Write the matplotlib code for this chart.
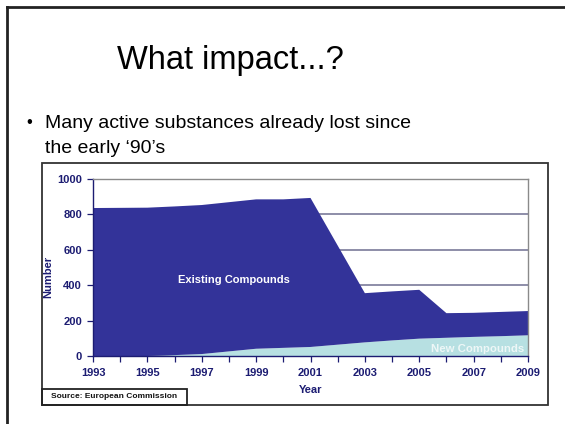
import matplotlib.pyplot as plt
from matplotlib.patches import Rectangle
from matplotlib.lines import Line2D

years = list(range(1993, 2010))
new_compounds = [0, 0, 0, 5, 11, 26, 41, 46, 51, 64, 77, 88, 98, 103, 108, 112, 117]
existing_compounds = [836, 837, 838, 840, 842, 843, 844, 839, 842, 560, 278, 277, 276, 139, 136, 137, 137]
y_ticks = [0, 200, 400, 600, 800, 1000]
x_labels = [1993, 1995, 1997, 1999, 2001, 2003, 2005, 2007, 2009]

navy = '#1c1c72'
dark_blue = '#333399'
light_cyan = '#b7e0e2'

plt.rcParams['font.family'] = ['Liberation Sans', 'DejaVu Sans']

fig = plt.figure(figsize=(5.65, 4.24), dpi=100)
fig.patch.set_facecolor('white')

# slide border (only left and top edges show)
fig.add_artist(Line2D([7 / 565, 7 / 565], [0, 1 - 7 / 424], color='#222222', lw=2, transform=fig.transFigure))
fig.add_artist(Line2D([7 / 565, 1], [1 - 7 / 424, 1 - 7 / 424], color='#222222', lw=2, transform=fig.transFigure))

fig.text(0.407, 0.858, 'What impact...?', fontsize=23.5, ha='center', va='center', color='black')
fig.text(0.046, 0.700, '\u2022', fontsize=12, ha='left', va='baseline', color='black')
fig.text(0.080, 0.698, 'Many active substances already lost since', fontsize=14, ha='left', va='baseline', color='black')
fig.text(0.080, 0.640, 'the early \u201890\u2019s', fontsize=14, ha='left', va='baseline', color='black')

# chart frame
fig.add_artist(Rectangle((42 / 565, 1 - 405 / 424), 506 / 565, 242 / 424, fill=False,
                         edgecolor='#333333', lw=1.3, transform=fig.transFigure))
fig.add_artist(Rectangle((42 / 565, 1 - 405 / 424), 145 / 565, 16 / 424, fill=False,
                         edgecolor='#222222', lw=1.3, transform=fig.transFigure))
fig.text((42 + 72.5) / 565, 1 - 397 / 424, 'Source: European Commission', fontsize=6, fontweight='bold',
         ha='center', va='center', color='#111111')

ax = fig.add_axes([93 / 565, 1 - 356 / 424, 435 / 565, 177 / 424])
ax.set_axisbelow(True)
ax.yaxis.grid(True, color='#7a7a9a', lw=1.2)
ax.stackplot(years, new_compounds, existing_compounds, colors=[light_cyan, dark_blue], lw=0)

ax.set_xlim(1993, 2009)
ax.set_ylim(0, 1000)
ax.set_xticks(years)
ax.set_xticklabels([str(y) if y in x_labels else '' for y in years])
ax.set_yticks(y_ticks)
ax.tick_params(axis='both', colors=navy, labelsize=8, length=4, width=0.9)
for lbl in ax.get_xticklabels() + ax.get_yticklabels():
    lbl.set_fontweight('bold')
    lbl.set_color(navy)
ax.tick_params(axis='x', pad=5)
ax.tick_params(axis='y', pad=4)

ax.spines['left'].set_color(navy)
ax.spines['bottom'].set_color(navy)
ax.spines['top'].set_color('#8a8a8a')
ax.spines['right'].set_color('#8a8a8a')
for s in ax.spines.values():
    s.set_linewidth(1.0)

ax.set_xlabel('Year', fontsize=8, fontweight='bold', color=navy, labelpad=5)
ax.set_ylabel('Number', fontsize=8, fontweight='bold', color=navy, va='center')
ax.yaxis.set_label_coords(-0.103, 0.446)

ax.text(1998.2, 430, 'Existing Compounds', fontsize=8, fontweight='bold', color='white', ha='center', va='center')
ax.text(2008.85, 40, 'New Compounds', fontsize=8.2, fontweight='bold', color='#eef7f7', ha='right', va='center')

fig.savefig('out.png', dpi=100)
